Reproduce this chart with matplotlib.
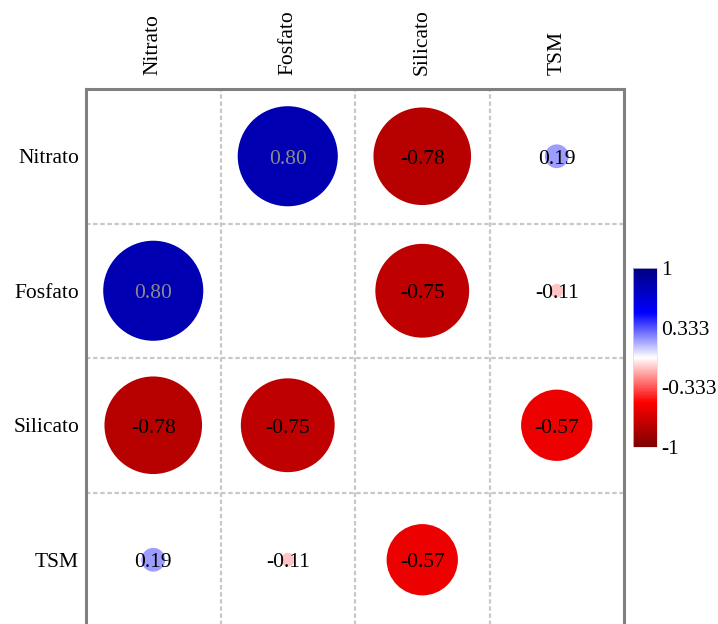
import numpy as np
import matplotlib
matplotlib.use("Agg")
import matplotlib.pyplot as plt
from matplotlib.colors import LinearSegmentedColormap, Normalize
from matplotlib.patches import Circle
from matplotlib.cm import ScalarMappable

plt.rcParams["font.family"] = ["Liberation Serif", "DejaVu Serif"]

variables = ["Nitrato", "Fosfato", "Silicato", "TSM"]
corr = [
    [1.00, 0.80, -0.78, 0.19],
    [0.80, 1.00, -0.75, -0.11],
    [-0.78, -0.75, 1.00, -0.57],
    [0.19, -0.11, -0.57, 1.00],
]
cbar_ticks = [-1, -0.333, 0.333, 1]
cbar_labels = ["-1", "-0.333", "0.333", "1"]

cmap = LinearSegmentedColormap.from_list(
    "rwb", [(0.0, "#7f0000"), (0.25, "#ff0000"), (0.5, "#ffffff"),
            (0.75, "#0000ff"), (1.0, "#000080")])
norm = Normalize(-1, 1)

fig = plt.figure(figsize=(7.18, 6.24), dpi=100)
W, H = 718, 624
ax = fig.add_axes([86 / W, 1 - 627 / H, 538 / W, 538 / H])

n = len(variables)
ax.set_xlim(-0.5, n - 0.5)
ax.set_ylim(n - 0.5, -0.5)
ax.set_aspect("equal")

scale = 0.465  # radius per unit |r|
for i in range(n):
    for j in range(n):
        if i == j:
            continue
        r = corr[i][j]
        ax.add_patch(Circle((j, i), abs(r) * scale, facecolor=cmap(norm(r)),
                            edgecolor="none", zorder=2))
        # small nudge down so digits sit on the circle centre
        ax.text(j, i + 0.022, f"{r:.2f}", ha="center", va="center", fontsize=15.5,
                color="#8a8a8a" if r >= 0.5 else "black", zorder=3)

# dashed cell grid
for k in range(1, n):
    ax.axvline(k - 0.5, color="#c8c8c8", lw=1.6, ls=(0, (2, 1.2)), zorder=1)
    ax.axhline(k - 0.5, color="#c8c8c8", lw=1.6, ls=(0, (2, 1.2)), zorder=1)

for s in ax.spines.values():
    s.set_color("#808080")
    s.set_linewidth(2.2)

ax.set_xticks(range(n))
ax.set_yticks(range(n))
ax.set_xticklabels(variables, rotation=90, fontsize=15.5)
ax.set_yticklabels(variables, fontsize=15.5)
ax.xaxis.tick_top()
ax.tick_params(length=0)
ax.tick_params(axis="x", pad=10)
ax.tick_params(axis="y", pad=5)

cax = fig.add_axes([633 / W, 1 - 447 / H, 24 / W, 179 / H])
cb = fig.colorbar(ScalarMappable(norm=norm, cmap=cmap), cax=cax)
cb.set_ticks(cbar_ticks)
cb.set_ticklabels(cbar_labels)
cb.ax.tick_params(length=0, labelsize=15.5, pad=3)
cb.outline.set_edgecolor("#dddddd")
cb.outline.set_linewidth(0.5)

fig.savefig("out.png", dpi=100)
